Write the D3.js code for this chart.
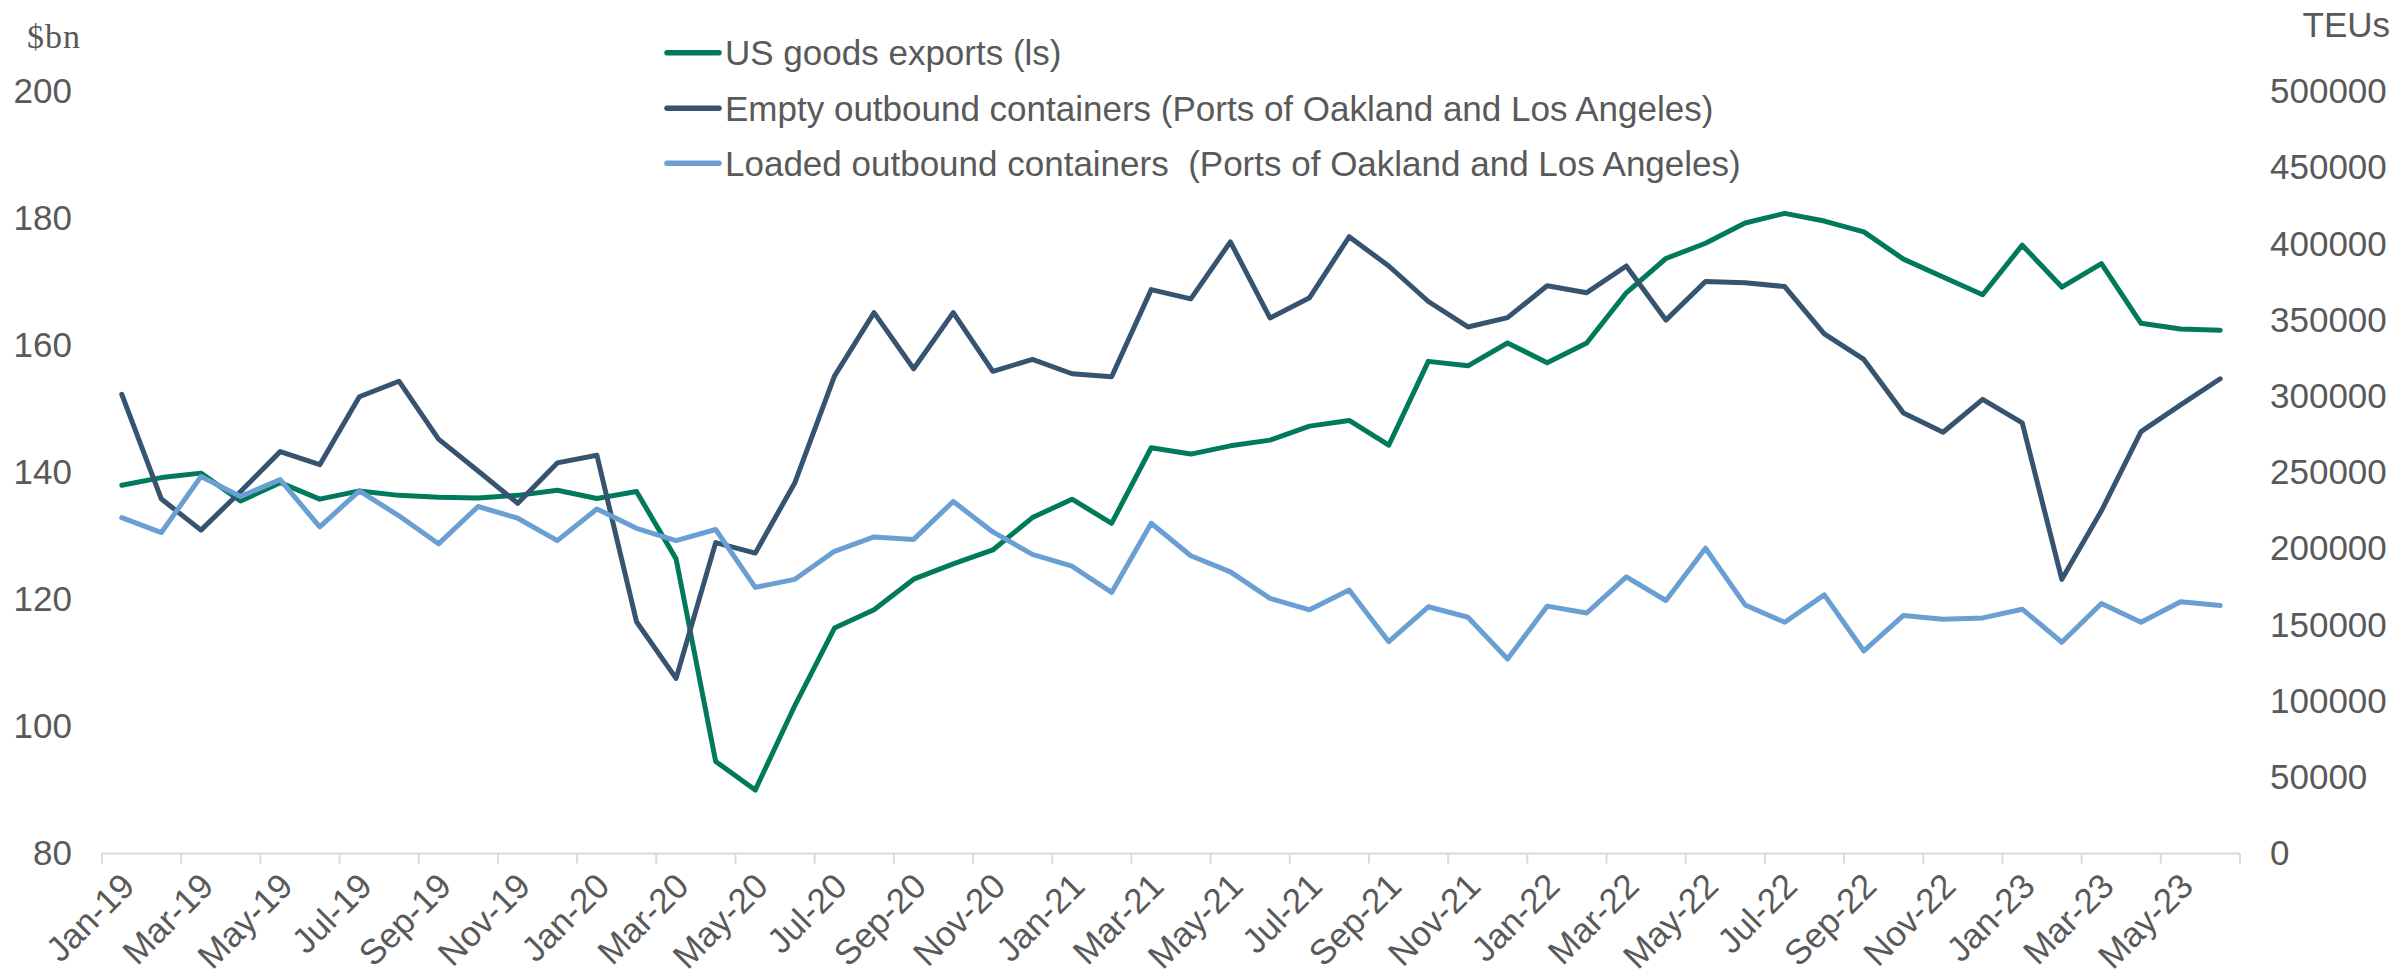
<!DOCTYPE html>
<html>
<head>
<meta charset="utf-8">
<script src="https://cdn.jsdelivr.net/npm/d3@7/dist/d3.min.js"></script>
<style>
  html, body { margin: 0; padding: 0; background: #fff; }
  svg { display: block; }
  text { font-family: "Liberation Sans", Arial, sans-serif; fill: #595959; }
</style>
</head>
<body>
<script>
const months = ["Jan-19","Feb-19","Mar-19","Apr-19","May-19","Jun-19","Jul-19","Aug-19","Sep-19","Oct-19","Nov-19","Dec-19",
  "Jan-20","Feb-20","Mar-20","Apr-20","May-20","Jun-20","Jul-20","Aug-20","Sep-20","Oct-20","Nov-20","Dec-20",
  "Jan-21","Feb-21","Mar-21","Apr-21","May-21","Jun-21","Jul-21","Aug-21","Sep-21","Oct-21","Nov-21","Dec-21",
  "Jan-22","Feb-22","Mar-22","Apr-22","May-22","Jun-22","Jul-22","Aug-22","Sep-22","Oct-22","Nov-22","Dec-22",
  "Jan-23","Feb-23","Mar-23","Apr-23","May-23","Jun-23"];

const usExports = [138.0,139.2,139.9,135.5,138.4,135.8,137.1,136.4,136.1,136.0,136.4,137.2,
  135.9,137.0,126.4,94.5,90.0,103.3,115.5,118.4,123.2,125.6,127.8,132.9,
  135.8,132.0,143.9,142.9,144.2,145.1,147.3,148.2,144.3,157.5,156.8,160.4,
  157.3,160.4,168.3,173.7,176.1,179.3,180.8,179.6,177.9,173.6,170.8,168.0,
  175.8,169.2,172.9,163.5,162.6,162.4];

const emptyOutbound = [301300,232600,212200,237500,263700,255100,299700,309900,271900,251000,229800,256300,
  261300,152100,114900,204000,197100,243300,313200,354900,318100,354900,316400,324200,
  314800,312800,370000,363900,401300,351400,364700,404700,385500,362200,345500,351600,
  372500,368000,385500,350000,375300,374500,372000,341000,324200,289000,276400,298000,
  282500,179900,224900,276800,294400,311500];

const loadedOutbound = [220400,210600,247400,234300,245300,214300,238000,221600,203200,227700,220000,205300,
  226100,213400,205300,212600,174600,179900,198300,207700,206100,231000,211000,196300,
  188500,171300,216700,195400,184800,167400,159900,172900,139000,161900,155000,127600,
  162300,157800,181500,166000,200300,163100,151700,169700,132900,156200,153700,154600,
  160300,138600,164000,151700,165200,162700];

const leftTicks = [80,100,120,140,160,180,200];
const rightTicks = [0,50000,100000,150000,200000,250000,300000,350000,400000,450000,500000];
const xTickLabels = months.filter((m,i) => i % 2 === 0);

const seriesNames = ["US goods exports (ls)",
  "Empty outbound containers (Ports of Oakland and Los Angeles)",
  "Loaded outbound containers  (Ports of Oakland and Los Angeles)"];
const seriesColors = ["#007A5A", "#36546F", "#6A9FD3"];

const W = 2397, H = 977;
const plot = {left: 102, right: 2240, top: 91.5, bottom: 853.5};
const FS = "35px";

const svg = d3.select("body").append("svg").attr("width", W).attr("height", H);

const x = d3.scaleBand().domain(months).range([plot.left, plot.right]).padding(0);
const yL = d3.scaleLinear().domain([80, 200]).range([plot.bottom, plot.top]);
const yR = d3.scaleLinear().domain([0, 500000]).range([plot.bottom, plot.top]);
const cx = m => x(m) + x.bandwidth() / 2;

// Left axis labels
const gL = svg.append("g").attr("transform", `translate(${plot.left},0)`)
  .call(d3.axisLeft(yL).tickValues(leftTicks).tickSize(0).tickPadding(30).tickFormat(d3.format("d")));
gL.select(".domain").remove();
gL.selectAll("text").style("font-size", FS).attr("fill", "#595959")
  .style("font-family", '"Liberation Sans", Arial, sans-serif');

// Right axis labels
const gR = svg.append("g").attr("transform", `translate(${plot.right},0)`)
  .call(d3.axisRight(yR).tickValues(rightTicks).tickSize(0).tickPadding(30).tickFormat(d3.format("d")));
gR.select(".domain").remove();
gR.selectAll("text").style("font-size", FS).attr("fill", "#595959")
  .style("font-family", '"Liberation Sans", Arial, sans-serif');

// Bottom axis line and ticks
const tickIdx = d3.range(0, months.length + 1, 2);
const xTickPos = tickIdx.map(i => plot.left + i * x.bandwidth());
const gX = svg.append("g");
gX.append("line").attr("x1", plot.left).attr("x2", plot.right)
  .attr("y1", plot.bottom).attr("y2", plot.bottom)
  .attr("stroke", "#d9d9d9").attr("stroke-width", 2);
gX.selectAll("line.tick").data(xTickPos).enter().append("line").attr("class", "tick")
  .attr("x1", d => d).attr("x2", d => d)
  .attr("y1", plot.bottom).attr("y2", plot.bottom + 10)
  .attr("stroke", "#d9d9d9").attr("stroke-width", 2);

gX.selectAll("text.xl").data(xTickLabels).enter().append("text").attr("class", "xl")
  .attr("transform", d => `translate(${cx(d) + 6},${plot.bottom + 26}) rotate(-45)`)
  .attr("text-anchor", "end").attr("dy", "0.35em")
  .style("font-size", FS)
  .text(d => d);

// Axis titles
svg.append("text").attr("x", 27).attr("y", 48)
  .style("font-family", '"Liberation Serif", "Times New Roman", serif')
  .style("font-size", "34px").style("letter-spacing", "1px")
  .text("$bn");
svg.append("text").attr("x", 2390).attr("y", 37).attr("text-anchor", "end")
  .style("font-size", FS).text("TEUs");

// Lines
const lineL = d3.line().x((d, i) => cx(months[i])).y(d => yL(d));
const lineR = d3.line().x((d, i) => cx(months[i])).y(d => yR(d));

svg.append("path").datum(usExports).attr("d", lineL)
  .attr("fill", "none").attr("stroke", seriesColors[0]).attr("stroke-width", 5)
  .attr("stroke-linejoin", "round").attr("stroke-linecap", "round");
svg.append("path").datum(emptyOutbound).attr("d", lineR)
  .attr("fill", "none").attr("stroke", seriesColors[1]).attr("stroke-width", 5)
  .attr("stroke-linejoin", "round").attr("stroke-linecap", "round");
svg.append("path").datum(loadedOutbound).attr("d", lineR)
  .attr("fill", "none").attr("stroke", seriesColors[2]).attr("stroke-width", 5)
  .attr("stroke-linejoin", "round").attr("stroke-linecap", "round");

// Legend
const legY = [52.7, 108.3, 163.3];
const leg = svg.append("g");
seriesNames.forEach((name, i) => {
  leg.append("line").attr("x1", 667).attr("x2", 719)
    .attr("y1", legY[i]).attr("y2", legY[i])
    .attr("stroke", seriesColors[i]).attr("stroke-width", 5.5).attr("stroke-linecap", "round");
  leg.append("text").attr("x", 725).attr("y", legY[i]).attr("dy", "0.35em")
    .style("font-size", FS).style("white-space", "pre")
    .text(name);
});
</script>
</body>
</html>
